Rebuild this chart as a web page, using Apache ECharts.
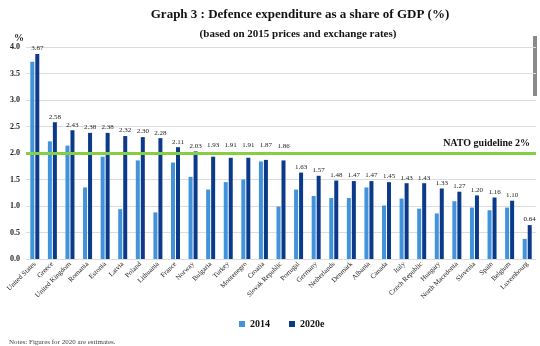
<!DOCTYPE html>
<html><head><meta charset="utf-8">
<script src="https://cdn.jsdelivr.net/npm/echarts@6/dist/echarts.min.js"></script>
<style>html,body{margin:0;padding:0;background:#fff}#c{width:540px;height:346px}</style>
</head><body><div id="c"></div>
<script>
const countries = ["United States","Greece","United Kingdom","Romania","Estonia","Latvia","Poland","Lithuania","France","Norway","Bulgaria","Turkey","Montenegro","Croatia","Slovak Republic","Portugal","Germany","Netherlands","Denmark","Albania","Canada","Italy","Czech Republic","Hungary","North Macedonia","Slovenia","Spain","Belgium","Luxembourg"];
const values2014 = [3.72,2.22,2.14,1.35,1.93,0.94,1.86,0.88,1.82,1.55,1.31,1.45,1.50,1.84,0.99,1.31,1.19,1.15,1.15,1.35,1.01,1.14,0.95,0.86,1.09,0.97,0.92,0.97,0.38];
const values2020 = [3.87,2.58,2.43,2.38,2.38,2.32,2.30,2.28,2.11,2.03,1.93,1.91,1.91,1.87,1.86,1.63,1.57,1.48,1.47,1.47,1.45,1.43,1.43,1.33,1.27,1.20,1.16,1.10,0.64];
const guideline = 2;
const serif = '"Liberation Serif","DejaVu Serif",serif';
const pxPerUnit = 53;
const data2020 = values2020.map(v => {
  const item = {value: v};
  if (v < guideline && v > guideline - 0.3) {
    item.label = {distance: Math.round((guideline - v) * pxPerUnit + 4)};
  }
  return item;
});
const chart = echarts.init(document.getElementById('c'));
chart.setOption({
  animation:false,
  title:[{text:'Graph 3 : Defence expenditure as a share of GDP (%)',left:295,top:3,textAlign:'center',
    textStyle:{fontFamily:serif,fontWeight:'bold',fontSize:13,color:'#111'}},
   {text:'(based on 2015 prices and exchange rates)',left:293,top:24,textAlign:'center',
    textStyle:{fontFamily:serif,fontWeight:'bold',fontSize:11,color:'#111'}},
   {text:'%',left:9,top:28,textStyle:{fontFamily:serif,fontWeight:'bold',fontSize:10,color:'#222'}},
   {text:'Notes: Figures for 2020 are estimates.',left:4,top:334,textStyle:{fontFamily:serif,fontWeight:'normal',fontSize:7,color:'#444'}}],
  legend:{bottom:12,left:234,itemWidth:6,itemHeight:6,itemGap:19,icon:'rect',
    textStyle:{fontFamily:serif,fontWeight:'bold',fontSize:10,color:'#111'},data:['2014','2020e']},
  grid:{left:26,right:4,top:47,bottom:87,containLabel:false},
  xAxis:{type:'category',data:countries,
    axisLine:{show:false},axisTick:{show:false},
    axisLabel:{interval:0,rotate:45,fontFamily:serif,fontSize:7,color:'#222',margin:4}},
  yAxis:{type:'value',min:0,max:4,interval:0.5,
    axisLine:{show:false},axisTick:{show:false},
    axisLabel:{formatter:v=>v.toFixed(1),fontFamily:serif,fontWeight:'bold',fontSize:8,color:'#222',margin:6},
    splitLine:{lineStyle:{color:'#dcdcdc',width:1}}},
  series:[
    {name:'2014',type:'bar',data:values2014,barWidth:4,barGap:'25%',itemStyle:{color:'#4193dc'}},
    {name:'2020e',type:'bar',data:data2020,barWidth:4,itemStyle:{color:'#0c3a8a'},
     label:{show:true,position:'top',distance:2,formatter:p=>p.value.toFixed(2),fontFamily:serif,fontSize:7,color:'#222'},
     markLine:{silent:true,symbol:'none',data:[{yAxis:guideline}],
       lineStyle:{color:'#86cf45',width:3,type:'solid'},
       label:{show:true,position:'insideEndTop',formatter:'NATO guideline 2%',fontFamily:serif,fontWeight:'bold',fontSize:10,color:'#111',distance:[6,5]}}}
  ],
  graphic:[{type:'rect',shape:{x:533,y:36,width:4,height:60},style:{fill:'#8a8a8a'}}]
});
</script></body></html>
